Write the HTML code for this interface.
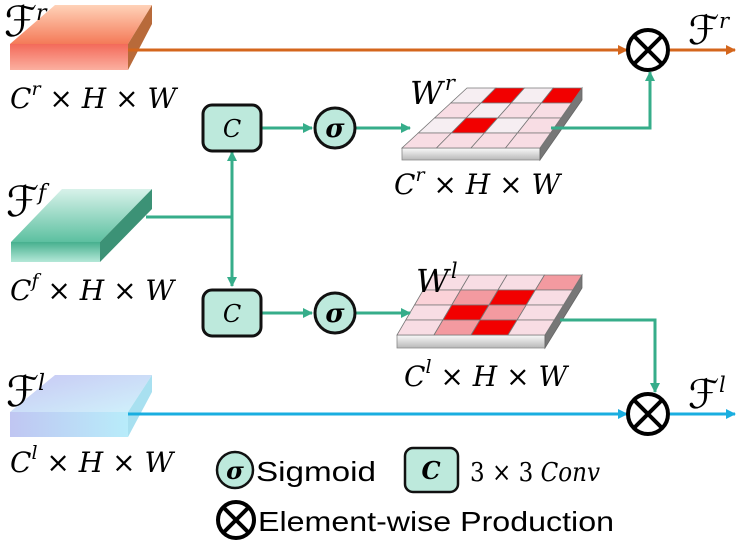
<!DOCTYPE html>
<html><head><meta charset="utf-8"><style>
html,body{margin:0;padding:0;background:#fff;}
svg{display:block}
.m{font-family:"DejaVu Serif","Liberation Serif",serif;font-style:italic;}
.f{font-family:"DejaVu Sans","Liberation Serif",serif;font-style:italic;}
.s{font-family:"Liberation Sans",sans-serif;}
</style></head><body>
<svg id="g" width="747" height="546" viewBox="0 0 747 546" xmlns="http://www.w3.org/2000/svg">
<defs>
<linearGradient id="or" x1="0" y1="0" x2="0" y2="1"><stop offset="0" stop-color="#ffd2b8"/><stop offset="1" stop-color="#f47a58"/></linearGradient>
<linearGradient id="orf" x1="0" y1="0" x2="0" y2="1"><stop offset="0" stop-color="#f36a5a"/><stop offset="1" stop-color="#fbb0a0"/></linearGradient>
<linearGradient id="gr" x1="0" y1="0" x2="0" y2="1"><stop offset="0" stop-color="#d8f2ea"/><stop offset="1" stop-color="#5cc0a0"/></linearGradient>
<linearGradient id="grf" x1="0" y1="0" x2="0" y2="1"><stop offset="0" stop-color="#46b08e"/><stop offset="1" stop-color="#b4e8d8"/></linearGradient>
<linearGradient id="bl" x1="0" y1="0" x2="1" y2="1"><stop offset="0" stop-color="#c8c8f4"/><stop offset="1" stop-color="#d0f2fb"/></linearGradient>
<linearGradient id="blf" x1="0" y1="0" x2="1" y2="0"><stop offset="0" stop-color="#c0c6f2"/><stop offset="1" stop-color="#b8ecfa"/></linearGradient>
<linearGradient id="gs" x1="0" y1="0" x2="0" y2="1"><stop offset="0" stop-color="#fafafa"/><stop offset="1" stop-color="#b8b8b8"/></linearGradient>
<marker id="ag" markerWidth="10" markerHeight="10" refX="9" refY="5" orient="auto" markerUnits="userSpaceOnUse"><path d="M0,0 L10,5 L0,10z" fill="#36ad8a"/></marker>
<marker id="ao" markerWidth="10" markerHeight="10" refX="9" refY="5" orient="auto" markerUnits="userSpaceOnUse"><path d="M0,0 L10,5 L0,10z" fill="#d4661c"/></marker>
<marker id="ab" markerWidth="10" markerHeight="10" refX="9" refY="5" orient="auto" markerUnits="userSpaceOnUse"><path d="M0,0 L10,5 L0,10z" fill="#1aaee0"/></marker>
</defs>
<g id="grids"></g>
<polygon points="55,5 152,5 128,44 10,44" fill="url(#or)"/>
<polygon points="152,5 152,24 128,70 128,44" fill="#b86a3a"/>
<rect x="10" y="44" width="118" height="26" fill="url(#orf)"/>
<polygon points="62,189 152,189 100,242 11,242" fill="url(#gr)"/>
<polygon points="152,189 152,209 100,262 100,242" fill="#3c9276"/>
<rect x="11" y="242" width="89" height="20" fill="url(#grf)"/>
<polygon points="55,375 152,375 128,412 10,412" fill="url(#bl)"/>
<polygon points="152,375 152,392 128,437 128,412" fill="#a8e0f0"/>
<rect x="10" y="412" width="118" height="25" fill="url(#blf)"/>
<text x="4" y="36" class="f" font-size="42">ℱ</text><text x="36" y="20" class="m" font-size="22">r</text>
<text x="6" y="216" class="f" font-size="42">ℱ</text><text x="38" y="200" class="m" font-size="22">f</text>
<text x="6" y="406" class="f" font-size="42">ℱ</text><text x="38" y="390" class="m" font-size="22">l</text>
<text x="688" y="44" class="f" font-size="40">ℱ</text><text x="719" y="28" class="m" font-size="21">r</text>
<text x="688" y="408" class="f" font-size="40">ℱ</text><text x="719" y="392" class="m" font-size="21">l</text>
<text x="10" y="108" class="m" font-size="28">C<tspan font-size="19" dy="-13">r</tspan><tspan dy="13"> × H × W</tspan></text>
<text x="10" y="300" class="m" font-size="28">C<tspan font-size="19" dy="-13">f</tspan><tspan dy="13"> × H × W</tspan></text>
<text x="10" y="472" class="m" font-size="28">C<tspan font-size="19" dy="-13">l</tspan><tspan dy="13"> × H × W</tspan></text>
<text x="394" y="194" class="m" font-size="28">C<tspan font-size="19" dy="-13">r</tspan><tspan dy="13"> × H × W</tspan></text>
<text x="404" y="386" class="m" font-size="28">C<tspan font-size="19" dy="-13">l</tspan><tspan dy="13"> × H × W</tspan></text>
<text x="410" y="104" class="m" font-size="32">W<tspan font-size="21" dy="-14" dx="2">r</tspan></text>
<text x="416" y="292" class="m" font-size="32">W<tspan font-size="21" dy="-14" dx="2">l</tspan></text>
<g stroke-width="3" fill="none">
<path d="M128,50 H627" stroke="#d4661c" marker-end="url(#ao)"/>
<path d="M670,50 H735" stroke="#d4661c" marker-end="url(#ao)"/>
<path d="M128,414 H627" stroke="#1aaee0" marker-end="url(#ab)"/>
<path d="M670,414 H735" stroke="#1aaee0" marker-end="url(#ab)"/>
<g stroke="#36ad8a">
<path d="M146,217 H232"/>
<path d="M232,217 V152" marker-end="url(#ag)"/>
<path d="M232,217 V286" marker-end="url(#ag)"/>
<path d="M262,128 H312" marker-end="url(#ag)"/>
<path d="M356,128 H410" marker-end="url(#ag)"/>
<path d="M262,313 H312" marker-end="url(#ag)"/>
<path d="M356,313 H410" marker-end="url(#ag)"/>
<path d="M551,128 H650 V72" marker-end="url(#ag)"/>
<path d="M560,320 H655 V392" marker-end="url(#ag)"/>
</g>
</g>
<rect x="203" y="105" width="58" height="46" rx="9" fill="#bde9dc" stroke="#111" stroke-width="3"/>
<text x="232" y="137" class="m" font-size="24" text-anchor="middle">C</text>
<rect x="203" y="290" width="58" height="46" rx="9" fill="#bde9dc" stroke="#111" stroke-width="3"/>
<text x="232" y="322" class="m" font-size="24" text-anchor="middle">C</text>
<circle cx="335" cy="128" r="20" fill="#bde9dc" stroke="#111" stroke-width="3"/>
<text x="335" y="137" class="m" font-size="26" font-weight="bold" text-anchor="middle">σ</text>
<circle cx="335" cy="313" r="20" fill="#bde9dc" stroke="#111" stroke-width="3"/>
<text x="335" y="322" class="m" font-size="26" font-weight="bold" text-anchor="middle">σ</text>
<g stroke="#000" stroke-width="4" fill="#fff">
<circle cx="648" cy="50" r="20"/><path d="M634,36 L662,64 M662,36 L634,64"/>
<circle cx="648" cy="414" r="20"/><path d="M634,400 L662,428 M662,400 L634,428"/>
<circle cx="236" cy="520" r="18"/><path d="M223,507 L249,533 M249,507 L223,533"/>
</g>
<circle cx="235" cy="470" r="18" fill="#bde9dc" stroke="#111" stroke-width="2.5"/>
<text x="235" y="479" class="m" font-size="24" font-weight="bold" text-anchor="middle">σ</text>
<text x="256" y="481" class="s" font-size="28" textLength="120" lengthAdjust="spacingAndGlyphs">Sigmoid</text>
<rect x="405" y="448" width="53" height="44" rx="8" fill="#bde9dc" stroke="#111" stroke-width="2.5"/>
<text x="431" y="479" class="m" font-size="24" font-weight="bold" text-anchor="middle">C</text>
<text x="470" y="481" font-family="DejaVu Serif,serif" font-size="26" textLength="130" lengthAdjust="spacingAndGlyphs">3 × 3 <tspan font-style="italic">Conv</tspan></text>
<text x="258" y="531" class="s" font-size="28" textLength="356" lengthAdjust="spacingAndGlyphs">Element-wise Production</text>
</svg>
<script>
function grid(tl,tr,bl,br,th,cols){
 var ns="http://www.w3.org/2000/svg",g=document.getElementById("grids");
 function P(u,v){return [tl[0]+(tr[0]-tl[0])*u+(bl[0]-tl[0])*v+(br[0]-bl[0]-tr[0]+tl[0])*u*v, tl[1]+(bl[1]-tl[1])*v];}
 function poly(pts,fill,stroke){var p=document.createElementNS(ns,"polygon");p.setAttribute("points",pts.map(function(a){return a.join(",")}).join(" "));p.setAttribute("fill",fill);if(stroke){p.setAttribute("stroke",stroke);p.setAttribute("stroke-width","0.8");}g.appendChild(p);}
 poly([bl,br,[br[0],br[1]+th],[bl[0],bl[1]+th]],"url(#gs)","#888");
 poly([tr,[tr[0],tr[1]+th],[br[0],br[1]+th],br],"#777","#666");
 for(var r=0;r<4;r++)for(var c=0;c<4;c++){poly([P(c/4,r/4),P((c+1)/4,r/4),P((c+1)/4,(r+1)/4),P(c/4,(r+1)/4)],cols[r][c],"#777");}
}
var w="#f6eef2",p="#f8dde4",R="#f20000";
grid([467,88],[582,88],[402,148],[540,148],12,[[w,R,w,R],[p,w,p,p],[w,R,w,p],[p,p,p,p]]);
var m="#f39aa0",l="#fbd2d8";
grid([432,275],[582,275],[397,335],[545,335],13,[[p,p,p,m],[l,m,R,p],[p,R,m,p],[p,m,R,p]]);
</script>
</body></html>
